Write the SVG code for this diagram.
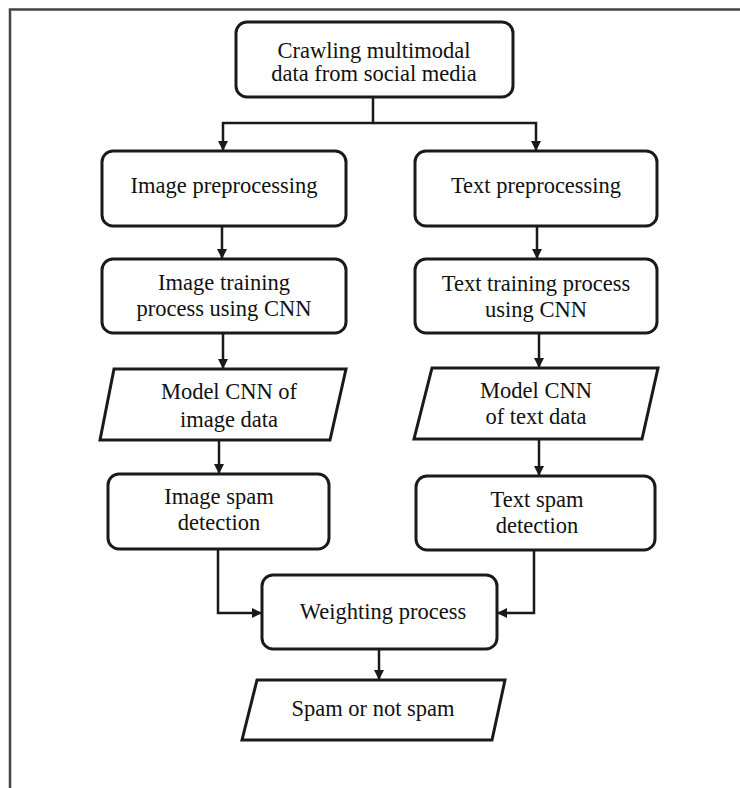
<svg xmlns="http://www.w3.org/2000/svg" width="740" height="788" viewBox="0 0 740 788">
  <style>
    .box { fill: #fff; stroke: #1a1a1a; stroke-width: 3; }
    .wire { fill: none; stroke: #1a1a1a; stroke-width: 2.5; }
    .lbl { font-family: "Liberation Serif", "Times New Roman", serif; font-size: 22.5px; fill: #111; text-anchor: middle; }
  </style>
  <defs>
    <marker id="head" viewBox="0 0 10 10" refX="9" refY="5" markerWidth="4" markerHeight="4" orient="auto" markerUnits="strokeWidth">
      <path d="M0,0 L10,5 L0,10 Z" fill="#1a1a1a"/>
    </marker>
  </defs>
  <rect width="740" height="788" fill="#fff"/>
  <!-- outer frame -->
  <path d="M10,788 V9.5 H740" fill="none" stroke="#444" stroke-width="2.5"/>

  <g id="connectors">
    <path class="wire" d="M373,97 V123 H223 V150" marker-end="url(#head)"/>
    <path class="wire" d="M373,123 H536 V150" marker-end="url(#head)"/>
    <path class="wire" d="M222,226 V258" marker-end="url(#head)"/>
    <path class="wire" d="M537,226 V258" marker-end="url(#head)"/>
    <path class="wire" d="M223,333 V368" marker-end="url(#head)"/>
    <path class="wire" d="M539,333 V367" marker-end="url(#head)"/>
    <path class="wire" d="M219,440 V473" marker-end="url(#head)"/>
    <path class="wire" d="M539,439 V475" marker-end="url(#head)"/>
    <path class="wire" d="M218,549 V613 H261" marker-end="url(#head)"/>
    <path class="wire" d="M534,550 V613 H498" marker-end="url(#head)"/>
    <path class="wire" d="M379,649 V679" marker-end="url(#head)"/>
  </g>

  <g id="crawl">
    <rect class="box" x="236" y="22" width="277" height="75" rx="11"/>
    <text class="lbl" x="374" y="58">Crawling multimodal</text>
    <text class="lbl" x="374" y="81">data from social media</text>
  </g>
  <g id="img-pre">
    <rect class="box" x="102" y="151" width="244" height="75" rx="11"/>
    <text class="lbl" x="224" y="193">Image preprocessing</text>
  </g>
  <g id="txt-pre">
    <rect class="box" x="415" y="151" width="242" height="75" rx="11"/>
    <text class="lbl" x="536" y="193">Text preprocessing</text>
  </g>
  <g id="img-train">
    <rect class="box" x="102" y="259" width="244" height="74" rx="11"/>
    <text class="lbl" x="224" y="290">Image training</text>
    <text class="lbl" x="224" y="316">process using CNN</text>
  </g>
  <g id="txt-train">
    <rect class="box" x="415" y="259" width="242" height="74" rx="11"/>
    <text class="lbl" x="536" y="291">Text training process</text>
    <text class="lbl" x="536" y="317">using CNN</text>
  </g>
  <g id="img-model">
    <polygon class="box" points="114,369 346,369 330,440 100,440"/>
    <text class="lbl" x="229" y="399">Model CNN of</text>
    <text class="lbl" x="229" y="427">image data</text>
  </g>
  <g id="txt-model">
    <polygon class="box" points="432,368 658,368 642,439 414,439"/>
    <text class="lbl" x="536" y="398">Model CNN</text>
    <text class="lbl" x="536" y="424">of text data</text>
  </g>
  <g id="img-spam">
    <rect class="box" x="108" y="474" width="221" height="75" rx="11"/>
    <text class="lbl" x="219" y="504">Image spam</text>
    <text class="lbl" x="219" y="530">detection</text>
  </g>
  <g id="txt-spam">
    <rect class="box" x="416" y="476" width="239" height="74" rx="11"/>
    <text class="lbl" x="537" y="507">Text spam</text>
    <text class="lbl" x="537" y="533">detection</text>
  </g>
  <g id="weighting">
    <rect class="box" x="262" y="575" width="235" height="74" rx="11"/>
    <text class="lbl" x="383" y="619">Weighting process</text>
  </g>
  <g id="result">
    <polygon class="box" points="257,680 505,680 492,740 242,740"/>
    <text class="lbl" x="373" y="716">Spam or not spam</text>
  </g>
</svg>
